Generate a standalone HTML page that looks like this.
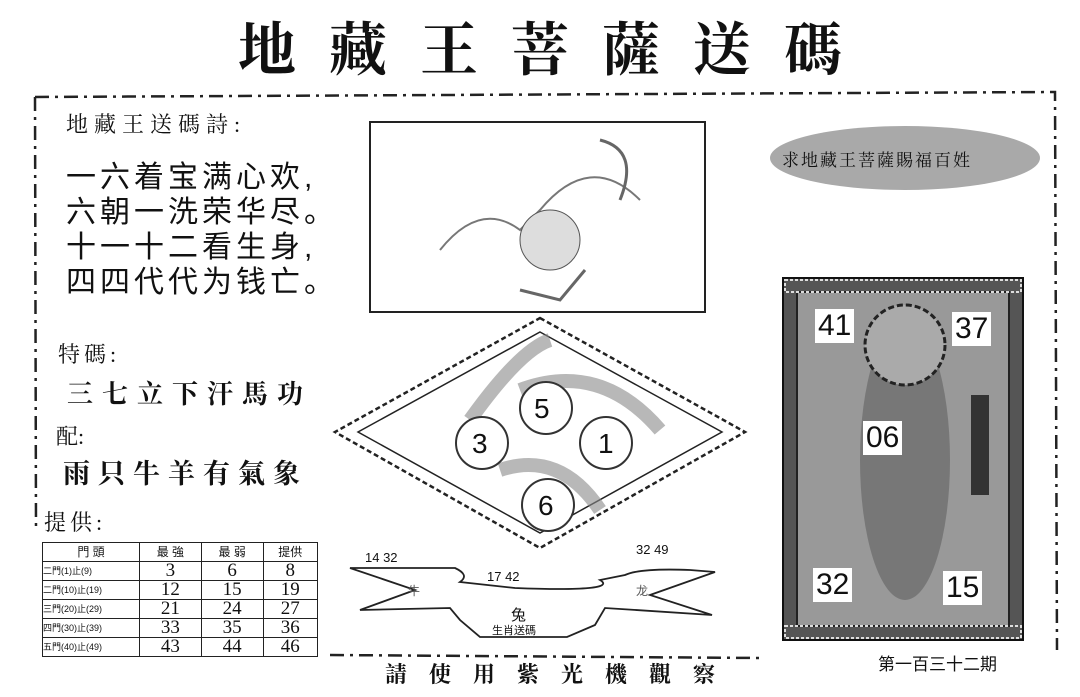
<!DOCTYPE html>
<html><head><meta charset="utf-8"><style>
body{margin:0;width:1080px;height:697px;background:#fff;position:relative;overflow:hidden;font-family:"Liberation Sans","Noto Sans CJK SC",sans-serif;color:#111}
.a{position:absolute;white-space:nowrap}
.serif{font-family:"Liberation Serif","Noto Serif CJK SC",serif}
table{border-collapse:collapse}
td{border:1.5px solid #222;height:18px;padding:0;text-align:center;font-family:"Liberation Serif",serif;font-size:19px;line-height:18px}
td.h{font-size:12px;font-family:"Liberation Sans","Noto Sans CJK SC",sans-serif}
td.l{font-size:9px;font-family:"Liberation Sans","Noto Sans CJK SC",sans-serif;text-align:left}
.num{position:absolute;background:#fff;font-size:30px;line-height:34px;padding:0 3px}
</style></head><body>
<div class="a serif" style="left:238px;top:18px;font-size:58px;font-weight:bold;letter-spacing:33px;line-height:66px">地藏王菩薩送碼</div>
<svg class="a" style="left:0;top:0" width="1080" height="697">
<g fill="none" stroke="#222" stroke-width="2.5" stroke-dasharray="14 6 3 6">
<path d="M35 97 L1055 92 L1057 650"/>
<path d="M35 97 L36 530"/>
<path d="M330 655 L760 658"/>
</g>
<rect x="370" y="122" width="335" height="190" fill="none" stroke="#222" stroke-width="2"/>
<path d="M440 250 Q480 200 520 230 L540 210 Q590 150 640 200" fill="none" stroke="#777" stroke-width="2"/>
<path d="M520 290 L560 300 L585 270 M600 140 Q640 150 620 200" fill="none" stroke="#666" stroke-width="3"/>
<ellipse cx="550" cy="240" rx="30" ry="30" fill="#ddd" stroke="#555"/>
<polygon points="540,318 745,432 540,548 335,432" fill="none" stroke="#222" stroke-width="2.5" stroke-dasharray="5 3"/>
<polygon points="540,332 722,432 540,533 358,432" fill="none" stroke="#222" stroke-width="1.5"/>
<path d="M470 420 Q520 350 550 340 M520 390 Q600 360 660 430 M500 470 Q560 450 600 510" fill="none" stroke="#888" stroke-width="14" opacity=".6"/>
<g fill="#fff" stroke="#333" stroke-width="2"><circle cx="546" cy="408" r="26"/><circle cx="482" cy="443" r="26"/><circle cx="606" cy="443" r="26"/><circle cx="548" cy="505" r="26"/></g>
<path d="M350 568 L455 568 Q470 575 460 582 L515 588 Q620 592 600 580 L625 575 Q640 568 690 570 L715 572 L650 595 L712 615 L605 608 L595 625 L567 637 L480 637 L460 620 L450 608 L360 610 L415 590 Z" fill="#fff" stroke="#222" stroke-width="1.8"/>
<ellipse cx="905" cy="158" rx="135" ry="32" fill="#9a9a9a" opacity=".85"/>
<rect x="783" y="278" width="240" height="362" fill="#555" stroke="#111" stroke-width="2"/>
<rect x="797" y="292" width="212" height="334" fill="#999" stroke="#222" stroke-width="2"/>
<rect x="785" y="280" width="236" height="12" fill="none" stroke="#ddd" stroke-dasharray="3 2" stroke-width="2"/>
<rect x="785" y="626" width="236" height="12" fill="none" stroke="#ddd" stroke-dasharray="3 2" stroke-width="2"/>
<ellipse cx="905" cy="460" rx="45" ry="140" fill="#777"/>
<circle cx="905" cy="345" r="40" fill="#aaa" stroke="#222" stroke-width="3" stroke-dasharray="6 3"/>
<rect x="971" y="395" width="18" height="100" fill="#333"/>
</svg>
<div class="a serif" style="left:66px;top:108px;font-size:22px;letter-spacing:6px">地藏王送碼詩:</div>
<div class="a" style="left:66px;top:160px;font-size:30px;line-height:35px;letter-spacing:4px">一六着宝满心欢,<br>六朝一洗荣华尽。<br>十一十二看生身,<br>四四代代为钱亡。</div>
<div class="a serif" style="left:58px;top:338px;font-size:22px;letter-spacing:4px">特碼:</div>
<div class="a serif" style="left:67px;top:374px;font-size:26px;font-weight:bold;letter-spacing:9px">三七立下汗馬功</div>
<div class="a serif" style="left:56px;top:420px;font-size:22px">配:</div>
<div class="a serif" style="left:63px;top:452px;font-size:27px;font-weight:bold;letter-spacing:8px">雨只牛羊有氣象</div>
<div class="a serif" style="left:44px;top:506px;font-size:22px;letter-spacing:4px">提供:</div>
<table class="a" style="left:42px;top:542px;width:276px">
<tr><td class="h" style="width:96px">門 頭</td><td class="h">最 強</td><td class="h">最 弱</td><td class="h">提供</td></tr>
<tr><td class="l">二門(1)止(9)</td><td>3</td><td>6</td><td>8</td></tr>
<tr><td class="l">二門(10)止(19)</td><td>12</td><td>15</td><td>19</td></tr>
<tr><td class="l">三門(20)止(29)</td><td>21</td><td>24</td><td>27</td></tr>
<tr><td class="l">四門(30)止(39)</td><td>33</td><td>35</td><td>36</td></tr>
<tr><td class="l">五門(40)止(49)</td><td>43</td><td>44</td><td>46</td></tr>
</table>
<div class="a" style="left:534px;top:393px;font-size:28px">5</div>
<div class="a" style="left:472px;top:428px;font-size:28px">3</div>
<div class="a" style="left:598px;top:428px;font-size:28px">1</div>
<div class="a" style="left:538px;top:490px;font-size:28px">6</div>
<div class="a" style="left:365px;top:550px;font-size:13px">14 32</div>
<div class="a" style="left:636px;top:542px;font-size:13px">32 49</div>
<div class="a" style="left:487px;top:569px;font-size:13px">17 42</div>
<div class="a" style="left:408px;top:582px;font-size:12px;color:#555">牛</div>
<div class="a" style="left:636px;top:582px;font-size:12px;color:#555">龙</div>
<div class="a" style="left:511px;top:604px;font-size:15px">兔</div>
<div class="a" style="left:492px;top:622px;font-size:11px">生肖送碼</div>
<div class="a serif" style="left:385px;top:658px;font-size:22px;font-weight:bold;letter-spacing:22px">請使用紫光機觀察</div>
<div class="a" style="left:878px;top:650px;font-size:17px">第一百三十二期</div>
<div class="a serif" style="left:782px;top:146px;font-size:17px;letter-spacing:2px">求地藏王菩薩賜福百姓</div>
<div class="num" style="left:815px;top:309px">41</div>
<div class="num" style="left:952px;top:312px">37</div>
<div class="num" style="left:863px;top:421px">06</div>
<div class="num" style="left:813px;top:568px">32</div>
<div class="num" style="left:943px;top:571px">15</div>
</body></html>
